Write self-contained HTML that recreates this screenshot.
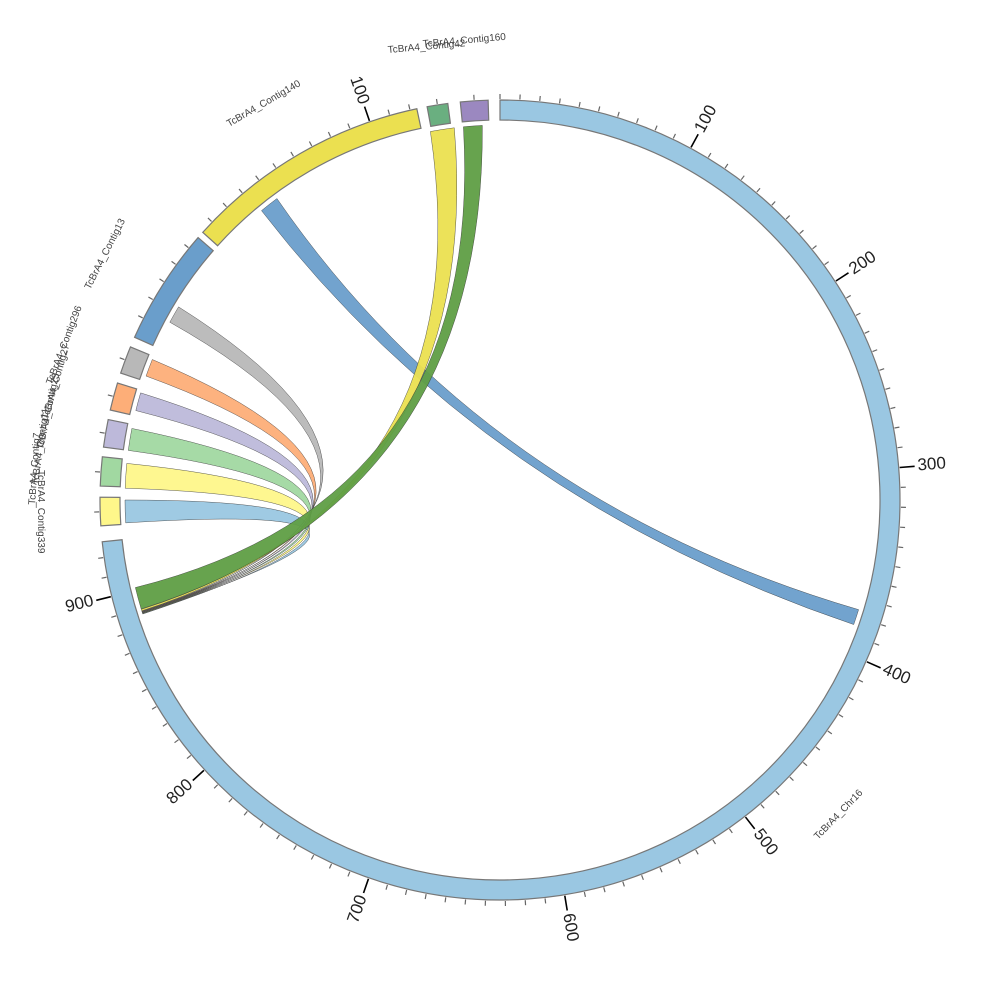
<!DOCTYPE html>
<html><head><meta charset="utf-8"><style>
html,body{margin:0;padding:0;background:#fff}
svg{display:block}
text{font-family:"Liberation Sans",sans-serif}
</style></head><body>
<svg id="s" width="1000" height="1000" viewBox="0 0 1000 1000" xmlns="http://www.w3.org/2000/svg"></svg>
<script>
var S=document.getElementById('s'),cx=500,cy=500,R1=380,R2=400,RR=375;
function P(a,r){var t=a*Math.PI/180;return [cx+r*Math.sin(t),cy-r*Math.cos(t)];}
function add(h){S.insertAdjacentHTML('beforeend',h);}
function seg(a1,a2,col){var p1=P(a1,R2),p2=P(a2,R2),p3=P(a2,R1),p4=P(a1,R1),l=(a2-a1)>180?1:0;
add('<path d="M'+p1+' A'+R2+','+R2+' 0 '+l+' 1 '+p2+' L'+p3+' A'+R1+','+R1+' 0 '+l+' 0 '+p4+' Z" fill="'+col+'" stroke="#777" stroke-width="1.2"/>');}
function rib(a1,a2,b1,b2,col){var A1=P(a1,RR),A2=P(a2,RR),B1=P(b1,RR),B2=P(b2,RR);
add('<path d="M'+A1+' A'+RR+','+RR+' 0 0 1 '+A2+' Q'+(cx-15)+','+cy+' '+B1+' A'+RR+','+RR+' 0 0 1 '+B2+' Q'+(cx-15)+','+cy+' '+A1+' Z" fill="'+col+'" stroke="#333" stroke-width="0.4" fill-opacity="0.95"/>');}
var U=0.2845;
seg(0,264,'#9ac7e2');
seg(266.3,270.4,'#fef78a');
seg(272,276.2,'#a1d8a1');
seg(277.6,281.6,'#bdb9da');
seg(283,287,'#fdae78');
seg(288.5,292.5,'#b8b8b8');
seg(294,311,'#6a9ecb');
seg(312,348,'#ebe050');
seg(349.5,352.5,'#6aaf80');
seg(354.3,358.3,'#9b88c0');
rib(320.5,323.5,107,109.4,'#6a9ecb');
rib(266.5,270,252.3,252.38,'#9ac7e2');
rib(271.8,275.6,252.38,252.46,'#fef78a');
rib(277.6,281,252.46,252.54,'#a1d8a1');
rib(283.8,286.6,252.54,252.62,'#bdb9da');
rib(289.3,292,252.62,252.7,'#fdae78');
rib(298.3,301,252.7,252.78,'#b8b8b8');
rib(349.3,353,252.8,253.05,'#ebe050');
rib(354.4,357.3,253.1,256.5,'#5f9e45');
for(var v=0;v*U<=264;v+=10){var a=v*U,maj=v%100==0&&v>0,p=P(a,R2+1),q=P(a,R2+(maj?16:6));
add('<line x1="'+p[0]+'" y1="'+p[1]+'" x2="'+q[0]+'" y2="'+q[1]+'" stroke="'+(maj?'#000':'#666')+'" stroke-width="'+(maj?1.6:1.2)+'"/>');
if(maj){var t=P(a,R2+19),rot,anc;if(a<180){rot=a-90;anc='start';}else{rot=a+90;anc='end';}
add('<text x="'+t[0]+'" y="'+t[1]+'" font-size="17" fill="#222" text-anchor="'+anc+'" dominant-baseline="middle" transform="rotate('+rot+' '+t[0]+' '+t[1]+')">'+v+'</text>');}}
var small=[[268.3],[274],[279.6],[285],[290.5],[297,300,303,306,309],[314,317,320,323,326,329,332,335,338,341,344,347],[351],[356.3]];
small.forEach(function(g){g.forEach(function(a){var maj=(a==341),p=P(a,R2+1),q=P(a,R2+(maj?16:6));
add('<line x1="'+p[0]+'" y1="'+p[1]+'" x2="'+q[0]+'" y2="'+q[1]+'" stroke="'+(maj?'#000':'#666')+'" stroke-width="'+(maj?1.6:1.2)+'"/>');
if(maj){var t=P(a,R2+19);add('<text x="'+t[0]+'" y="'+t[1]+'" font-size="17" fill="#222" text-anchor="end" dominant-baseline="middle" transform="rotate('+(a+90)+' '+t[0]+' '+t[1]+')">100</text>');}});});
function lab(x,y,rot,s){add('<text x="'+x+'" y="'+y+'" font-size="10" fill="#444" transform="rotate('+rot+' '+x+' '+y+')">'+s+'</text>');}
lab(818,840,-46,'TcBrA4_Chr16');
lab(229,127,-30,'TcBrA4_Contig140');
lab(388,53,-5,'TcBrA4_Contig42');
lab(423,47,-5,'TcBrA4_Contig160');
lab(90,290,-63,'TcBrA4_Contig13');
lab(52,385,-69,'TcBrA4_Contig296');
lab(48,420,-74,'TcBrA4_Contig27');
lab(43,450,-78,'TcBrA4_Contig23');
lab(38,485,-82,'TcBrA4_Contig11');
lab(35,505,-86,'TcBrA4_Contig7');
lab(38,470,90,'TcBrA4_Contig339');
</script>
</body></html>
